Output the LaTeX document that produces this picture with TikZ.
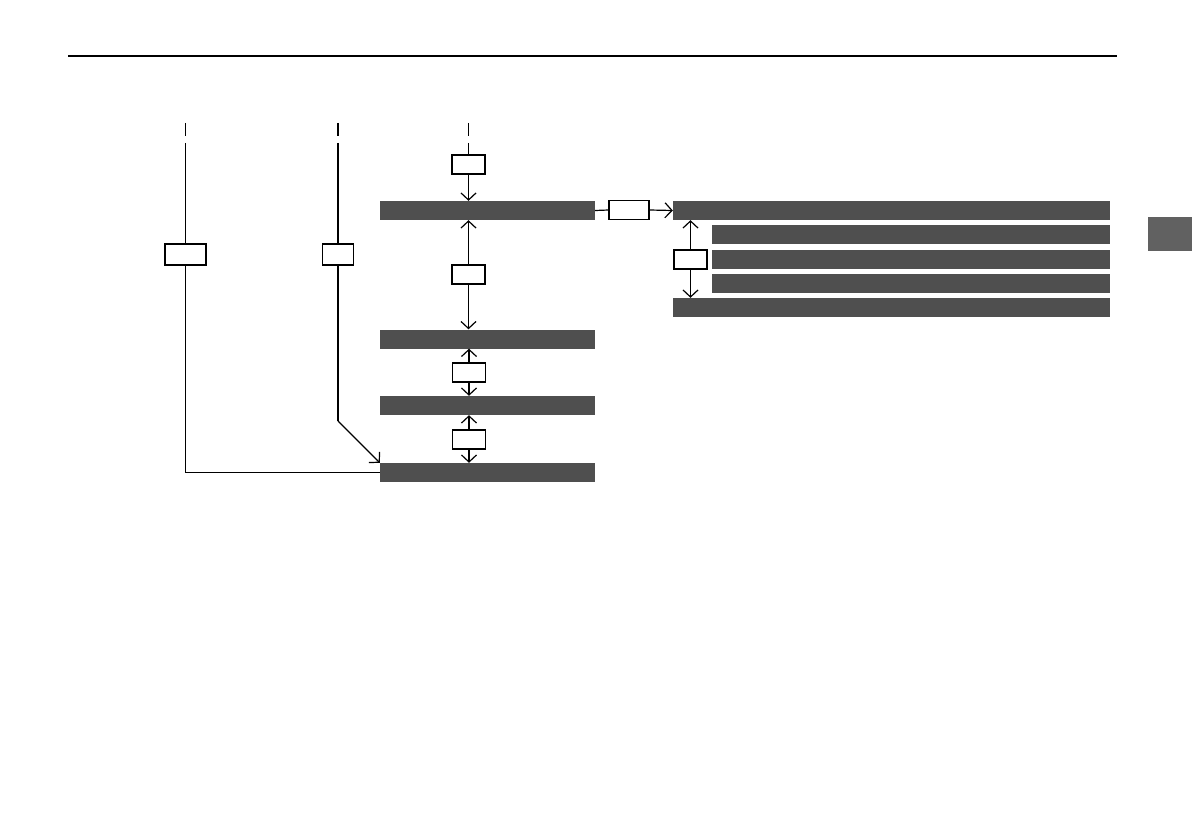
\documentclass[tikz,border=0pt]{standalone}
\usetikzlibrary{arrows.meta}
\definecolor{barfill}{HTML}{4F4F4F}
\definecolor{tabfill}{HTML}{616161}
\begin{document}
\begin{tikzpicture}[x=1pt,y=-1pt,
  bar/.style={fill=barfill,draw=none,inner sep=0pt,minimum height=19pt},
  sbox/.style={draw=black,fill=white,line width=1.2pt,inner sep=0pt,minimum height=19pt},
  conn/.style={line width=1.2pt},
  arr/.style={conn,-{Straight Barb[length=7pt,width=15pt,line width=1.2pt]}}]
\useasboundingbox (0,0) rectangle (1192,840);
% top rule
\coordinate (r1) at (68,56);
\coordinate (r2) at (1117,56);
\draw[line width=1.3pt] (r1) -- (r2);
% tab
\node[fill=tabfill,inner sep=0pt,minimum width=44pt,minimum height=34pt] (tab) at (1170,234) {};
% bars
\node[bar,minimum width=215pt] (bar1) at (487.5,210.5) {};
\node[bar,minimum width=215pt] (bar2) at (487.5,339) {};
\node[bar,minimum width=215pt] (bar3) at (487.5,405.5) {};
\node[bar,minimum width=215pt] (bar4) at (487.5,472.5) {};
\node[bar,minimum width=437pt] (bar5) at (891.5,210.5) {};
\node[bar,minimum width=398pt] (sub1) at (911,234.5) {};
\node[bar,minimum width=398pt] (sub2) at (911,259.5) {};
\node[bar,minimum width=398pt] (sub3) at (911,283.5) {};
\node[bar,minimum width=437pt] (bar6) at (891.5,307.5) {};
% small boxes
\node[sbox,minimum width=41pt,minimum height=21pt] (bL) at (185.5,254.5) {};
\node[sbox,minimum width=31pt,minimum height=21pt] (bM) at (338,254.5) {};
\node[sbox,minimum width=33pt] (bT) at (468.5,164.5) {};
\node[sbox,minimum width=33pt] (b12) at (468.5,274.5) {};
\node[sbox,minimum width=33pt] (b23) at (469,372.5) {};
\node[sbox,minimum width=33pt] (b34) at (469,439.5) {};
\node[sbox,minimum width=40pt] (bR) at (629,210) {};
\node[sbox,minimum width=33pt] (bS) at (690.5,259.5) {};
% ticks and line starts
\coordinate (tLa) at (185.5,123); \coordinate (tLb) at (185.5,136); \coordinate (tL) at (185.5,143);
\coordinate (tMa) at (338,123); \coordinate (tMb) at (338,136); \coordinate (tM) at (338,143);
\coordinate (tTa) at (468.5,123); \coordinate (tTb) at (468.5,136); \coordinate (tT) at (468.5,143);
\coordinate (cM) at (338,421);
\draw[conn] (tLa) -- (tLb) (tMa) -- (tMb) (tTa) -- (tTb);
% left path
\draw[conn] (tL) -- (bL.north);
\draw[conn] (bL.south) |- (bar4.west);
% middle path
\draw[conn] (tM) -- (bM.north);
\draw[conn] (bM.south) -- (cM);
\draw[arr] (cM) -- (bar4.north west);
% top path
\draw[conn] (tT) -- (bT.north);
\draw[arr] (bT.south) -- (bT.south |- bar1.north);
% between bars
\draw[arr] (b12.north) -- (b12.north |- bar1.south);
\draw[arr] (b12.south) -- (b12.south |- bar2.north);
\draw[arr] (b23.north) -- (b23.north |- bar2.south);
\draw[arr] (b23.south) -- (b23.south |- bar3.north);
\draw[arr] (b34.north) -- (b34.north |- bar3.south);
\draw[arr] (b34.south) -- (b34.south |- bar4.north);
% right
\draw[conn] (bar1.east) -- (bR.west);
\draw[arr] (bR.east) -- (bar5.west);
\draw[arr] (bS.north) -- (bS.north |- bar5.south);
\draw[arr] (bS.south) -- (bS.south |- bar6.north);
\end{tikzpicture}
\end{document}
